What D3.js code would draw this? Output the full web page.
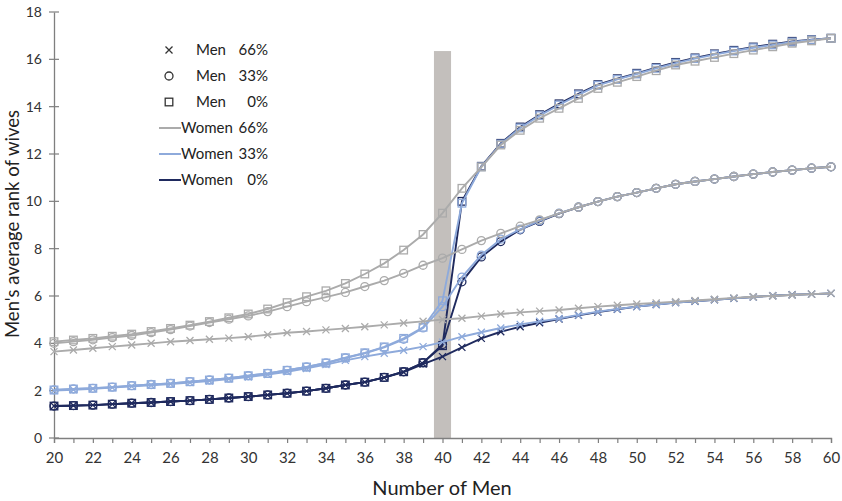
<!DOCTYPE html>
<html><head><meta charset="utf-8">
<script src="https://cdn.jsdelivr.net/npm/d3@7"></script>
<style>body{margin:0;background:#fff}svg{display:block}text{font-family:Lato,"Open Sans",sans-serif}</style>
</head><body>
<script>
const xs = d3.range(20, 61);
// Women 66% (gray)
const w66_m66 = [3.65,3.72,3.79,3.86,3.93,4.00,4.07,4.12,4.17,4.22,4.28,4.36,4.45,4.50,4.57,4.63,4.70,4.78,4.86,4.93,5.01,5.06,5.15,5.24,5.31,5.36,5.41,5.48,5.55,5.61,5.66,5.71,5.76,5.81,5.86,5.92,5.97,6.00,6.04,6.08,6.11];
const w66_m33 = [4.00,4.07,4.15,4.24,4.33,4.45,4.58,4.73,4.88,5.02,5.16,5.34,5.55,5.76,5.95,6.15,6.40,6.65,6.96,7.30,7.60,7.97,8.34,8.65,8.95,9.22,9.49,9.75,9.99,10.20,10.37,10.55,10.72,10.84,10.94,11.05,11.15,11.24,11.32,11.40,11.46];
const w66_m0  = [4.07,4.14,4.21,4.30,4.39,4.50,4.63,4.77,4.92,5.08,5.24,5.45,5.72,5.97,6.22,6.53,6.93,7.38,7.94,8.60,9.50,10.55,11.45,12.38,13.00,13.51,13.93,14.35,14.77,15.03,15.27,15.52,15.76,15.92,16.08,16.24,16.39,16.53,16.68,16.78,16.89];
// Women 33% (light blue)
const w33_m66 = [2.00,2.04,2.08,2.13,2.18,2.23,2.28,2.34,2.41,2.49,2.58,2.68,2.80,2.94,3.10,3.28,3.44,3.58,3.71,3.86,4.05,4.28,4.47,4.65,4.80,4.93,5.05,5.20,5.34,5.45,5.55,5.64,5.72,5.78,5.84,5.90,5.96,6.01,6.05,6.08,6.11];
const w33_m33 = [2.03,2.07,2.10,2.15,2.21,2.26,2.31,2.38,2.45,2.53,2.63,2.73,2.86,3.00,3.17,3.38,3.58,3.83,4.17,4.65,5.55,6.80,7.73,8.40,8.82,9.18,9.50,9.75,9.99,10.20,10.37,10.55,10.72,10.84,10.94,11.05,11.15,11.24,11.32,11.40,11.46];
const w33_m0  = [2.03,2.07,2.10,2.15,2.21,2.26,2.31,2.38,2.45,2.53,2.63,2.73,2.86,3.00,3.17,3.39,3.60,3.85,4.21,4.68,5.80,9.92,11.46,12.42,13.10,13.62,14.07,14.50,14.90,15.15,15.38,15.62,15.84,16.03,16.20,16.35,16.49,16.61,16.73,16.82,16.89];
// Women 0% (navy)
const w0_m66 = [1.35,1.37,1.39,1.43,1.47,1.50,1.54,1.58,1.63,1.69,1.75,1.82,1.89,1.98,2.10,2.24,2.36,2.55,2.78,3.12,3.44,3.83,4.21,4.49,4.70,4.87,5.03,5.18,5.32,5.44,5.55,5.64,5.72,5.78,5.84,5.90,5.96,6.01,6.05,6.08,6.11];
const w0_m33 = [1.35,1.37,1.39,1.43,1.47,1.50,1.54,1.58,1.63,1.69,1.75,1.82,1.89,1.98,2.10,2.24,2.36,2.56,2.80,3.18,3.95,6.60,7.65,8.30,8.80,9.15,9.48,9.75,9.99,10.20,10.37,10.55,10.72,10.84,10.94,11.05,11.15,11.24,11.32,11.40,11.46];
const w0_m0  = [1.35,1.37,1.39,1.43,1.47,1.50,1.54,1.58,1.63,1.69,1.75,1.82,1.89,1.98,2.10,2.24,2.36,2.56,2.80,3.18,3.90,10.00,11.48,12.45,13.14,13.66,14.12,14.54,14.93,15.18,15.41,15.65,15.87,16.06,16.23,16.38,16.52,16.64,16.76,16.83,16.89];

const xTickLabels = d3.range(20, 61, 2);
const yTickLabels = d3.range(0, 19, 2);
const band = [39.56, 40.44, 16.35];
const legendMen = [["×","66%"],["○","33%"],["□","0%"]];
const legendWomen = ["66%","33%","0%"];

const W = 842, H = 501;
const svg = d3.select("body").append("svg").attr("width", W).attr("height", H);
const x = d3.scaleLinear().domain([20, 60]).range([54, 831]);
const y = d3.scaleLinear().domain([0, 18]).range([438, 12]);

const colors = {w66: "#ababab", w33: "#8eaadb", w0: "#1f2a5e"};
const axisColor = "#7f7f7f";

// band
svg.append("rect").attr("x", x(band[0])).attr("width", x(band[1]) - x(band[0]))
  .attr("y", y(band[2])).attr("height", y(0) - y(band[2])).attr("fill", "#c3bfbc");

// axes
const yAxis = svg.append("g").attr("transform", `translate(${x(20)},0)`)
  .call(d3.axisLeft(y).tickValues(yTickLabels).tickSize(0).tickPadding(12).tickFormat(d3.format("d")));
yAxis.select(".domain").attr("stroke", axisColor).attr("stroke-width", 1.3);
yAxis.selectAll("text").attr("font-size", 14).attr("fill", "#333");
svg.append("g").selectAll("line").data(yTickLabels).join("line")
  .attr("x1", x(20) - 5).attr("x2", x(20) + 5).attr("y1", d => y(d)).attr("y2", d => y(d))
  .attr("stroke", axisColor).attr("stroke-width", 1.2);

const xAxis = svg.append("g").attr("transform", `translate(0,${y(0)})`)
  .call(d3.axisBottom(x).tickValues(xs).tickSize(5).tickPadding(9)
    .tickFormat(d => d % 2 === 0 ? d : ""));
xAxis.select(".domain").attr("stroke", axisColor).attr("stroke-width", 1.3);
xAxis.selectAll(".tick line").attr("stroke", axisColor).attr("stroke-width", 1.2);
xAxis.selectAll("text").attr("font-size", 15).attr("fill", "#333");

svg.append("text").attr("x", 442).attr("y", 495).attr("text-anchor", "middle")
  .attr("font-size", 20).attr("fill", "#222").text("Number of Men");
svg.append("text").attr("transform", "translate(19,224) rotate(-90)").attr("text-anchor", "middle")
  .attr("font-size", 18.5).attr("fill", "#222").text("Men's average rank of wives");

// series (navy drawn first, gray last / on top)
const series = [
  {v: w0_m66, c: colors.w0, m: "x"}, {v: w0_m33, c: colors.w0, m: "o"}, {v: w0_m0, c: colors.w0, m: "s"},
  {v: w33_m66, c: colors.w33, m: "x"}, {v: w33_m33, c: colors.w33, m: "o"}, {v: w33_m0, c: colors.w33, m: "s"},
  {v: w66_m66, c: colors.w66, m: "x"}, {v: w66_m33, c: colors.w66, m: "o"}, {v: w66_m0, c: colors.w66, m: "s"}
];
const line = d3.line().x((d, i) => x(xs[i])).y(d => y(d));

function marker(g, m, cx, cy, c) {
  if (m === "s") g.append("rect").attr("x", cx - 3.8).attr("y", cy - 3.8).attr("width", 7.6).attr("height", 7.6)
      .attr("fill", "none").attr("stroke", c).attr("stroke-width", 1.3);
  else if (m === "o") g.append("circle").attr("cx", cx).attr("cy", cy).attr("r", 4)
      .attr("fill", "none").attr("stroke", c).attr("stroke-width", 1.3);
  else g.append("path").attr("d", `M${cx-3.5},${cy-3.5}L${cx+3.5},${cy+3.5}M${cx-3.5},${cy+3.5}L${cx+3.5},${cy-3.5}`)
      .attr("stroke", c).attr("stroke-width", 1.3);
}

series.forEach(s => {
  const g = svg.append("g");
  g.append("path").datum(s.v).attr("d", line).attr("fill", "none").attr("stroke", s.c).attr("stroke-width", 1.9);
  s.v.forEach((v, i) => marker(g, s.m, x(xs[i]), y(v), s.c));
});

// legend
const lg = svg.append("g");
const rowY = [50, 76, 102, 128, 154, 180];
legendMen.forEach((d, i) => {
  const m = ["x", "o", "s"][i];
  marker(lg, m, 169, rowY[i], "#333");
  lg.append("text").attr("x", 196).attr("y", rowY[i] + 5).attr("font-size", 15).attr("fill", "#222").text("Men");
  lg.append("text").attr("x", 268).attr("y", rowY[i] + 5).attr("text-anchor", "end").attr("font-size", 15).attr("fill", "#222").text(d[1]);
});
[colors.w66, colors.w33, colors.w0].forEach((c, i) => {
  const yy = rowY[i + 3];
  lg.append("line").attr("x1", 159).attr("x2", 181).attr("y1", yy).attr("y2", yy).attr("stroke", c).attr("stroke-width", 2);
  lg.append("text").attr("x", 181).attr("y", yy + 5).attr("font-size", 15).attr("fill", "#222").text("Women");
  lg.append("text").attr("x", 268).attr("y", yy + 5).attr("text-anchor", "end").attr("font-size", 15).attr("fill", "#222").text(legendWomen[i]);
});
</script>
</body></html>
